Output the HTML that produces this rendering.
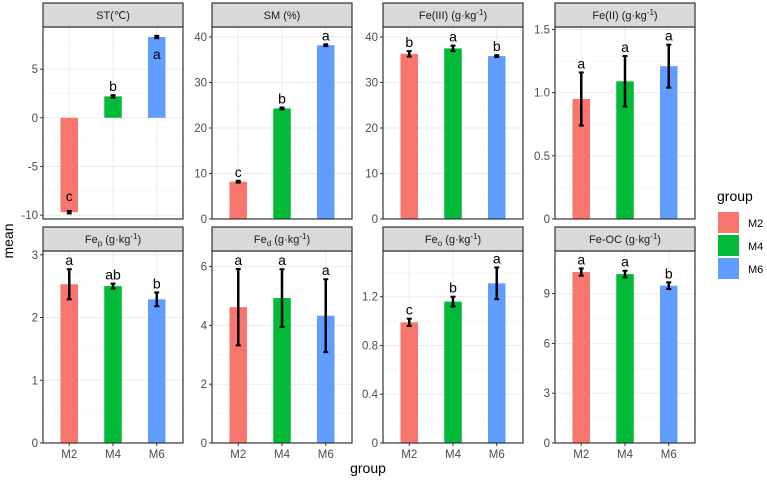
<!DOCTYPE html>
<html><head><meta charset="utf-8"><style>
body{margin:0;background:#fff}
svg{display:block;font-family:"Liberation Sans",sans-serif}
</style></head><body>
<svg id="c" width="767" height="481" viewBox="0 0 767 481"></svg>
<script>
const categories=["M2","M4","M6"];
const colors=["#F8766D","#00BA38","#619CFF"];
const panelTitles=["ST(℃)","SM (%)","Fe(III) (g·kg-1)","Fe(II) (g·kg-1)","Fep (g·kg-1)","Fed (g·kg-1)","Feo (g·kg-1)","Fe-OC (g·kg-1)"];
const meanST=[-9.7,2.2,8.3], errST=[0.12,0.12,0.12], lettersST=["c","b","a"];
const meanSM=[8.2,24.3,38.2], errSM=[0.2,0.2,0.2], lettersSM=["c","b","a"];
const meanFe3=[36.3,37.5,35.8], errFe3=[0.6,0.6,0.2], lettersFe3=["b","a","b"];
const meanFe2=[0.95,1.09,1.21], errFe2=[0.21,0.2,0.17], lettersFe2=["a","a","a"];
const meanFep=[2.53,2.50,2.29], errFep=[0.24,0.04,0.11], lettersFep=["a","ab","b"];
const meanFed=[4.62,4.93,4.33], errFed=[1.3,0.98,1.24], lettersFed=["a","a","a"];
const meanFeo=[0.99,1.16,1.31], errFeo=[0.03,0.04,0.13], lettersFeo=["c","b","a"];
const meanFeOC=[10.3,10.18,9.48], errFeOC=[0.22,0.2,0.2], lettersFeOC=["a","a","b"];
const ticksST=[-10,-5,0,5], ticksSM=[0,10,20,30,40], ticksFe3=[0,10,20,30,40], ticksFe2=[0,0.5,1.0,1.5];
const ticksFep=[0,1,2,3], ticksFed=[0,2,4,6], ticksFeo=[0,0.4,0.8,1.2], ticksFeOC=[0,3,6,9];
const tickFmt=[v=>v,v=>v,v=>v,v=>v.toFixed(1).replace("0.0","0"),v=>v,v=>v,v=>v===0?"0":v.toFixed(1),v=>v];
const panels=[
 {m:meanST,e:errST,l:lettersST,t:ticksST,d:[-10.4,9.33]},
 {m:meanSM,e:errSM,l:lettersSM,t:ticksSM,d:[0,42.2]},
 {m:meanFe3,e:errFe3,l:lettersFe3,t:ticksFe3,d:[0,42.2]},
 {m:meanFe2,e:errFe2,l:lettersFe2,t:ticksFe2,d:[0,1.52]},
 {m:meanFep,e:errFep,l:lettersFep,t:ticksFep,d:[0,3.06]},
 {m:meanFed,e:errFed,l:lettersFed,t:ticksFed,d:[0,6.53]},
 {m:meanFeo,e:errFeo,l:lettersFeo,t:ticksFeo,d:[0,1.575]},
 {m:meanFeOC,e:errFeOC,l:lettersFeOC,t:ticksFeOC,d:[0,11.57]}
];
const NS="http://www.w3.org/2000/svg";
const svg=document.getElementById("c");
function mk(tag,attrs,parent){const el=document.createElementNS(NS,tag);for(const k in attrs)el.setAttribute(k,attrs[k]);(parent||svg).appendChild(el);return el;}
const lefts=[43,212,383,555], W=140;
const rows=[{st:3,top:27,bot:219},{st:227,top:251,bot:443}];
panels.forEach((p,i)=>{
 const x0=lefts[i%4], r=rows[Math.floor(i/4)];
 const g=mk("g",{});
 
 
 const y=v=>r.bot-(v-p.d[0])/(p.d[1]-p.d[0])*(r.bot-r.top);
 const xc=k=>x0+(k+0.6)*W/3.2;
 mk("rect",{x:x0,y:r.top,width:W,height:r.bot-r.top,fill:"#fff"},g);
 for(let j=0;j<p.t.length+1;j++){
  const step=p.t[1]-p.t[0];const v=p.t[0]+(j-0.5)*step;
  if(v>p.d[0]&&v<p.d[1])mk("line",{x1:x0,x2:x0+W,y1:y(v),y2:y(v),stroke:"#f3f3f3","stroke-width":0.6},g);
 }
 p.t.forEach((v,j)=>{
  mk("line",{x1:x0,x2:x0+W,y1:y(v),y2:y(v),stroke:"#ebebeb","stroke-width":1},g);
  mk("line",{x1:x0-3,x2:x0,y1:y(v),y2:y(v),stroke:"#333","stroke-width":1},g);
  const t=mk("text",{x:x0-5,y:y(v)+4,"text-anchor":"end","font-size":11.5,fill:"#4d4d4d"},g);
  t.textContent=tickFmt[i](v);
  
  
 });
 categories.forEach((c,k)=>mk("line",{x1:xc(k),x2:xc(k),y1:r.top,y2:r.bot,stroke:"#ebebeb","stroke-width":1},g));
 const bw=W/3.2*0.4;
 categories.forEach((c,k)=>{
  const v=p.m[k], y0=y(Math.max(0,p.d[0]>0?p.d[0]:0)), yv=y(v);
  const b=mk("rect",{x:xc(k)-bw/2,y:Math.min(y0,yv),width:bw,height:Math.abs(y0-yv),fill:colors[k]},g);
  
  
  const lo=y(v-p.e[k]),hi=y(v+p.e[k]);
  mk("line",{x1:xc(k),x2:xc(k),y1:lo,y2:hi,stroke:"#000","stroke-width":2.5},g);
  mk("line",{x1:xc(k)-2.5,x2:xc(k)+2.5,y1:lo,y2:lo,stroke:"#000","stroke-width":2},g);
  mk("line",{x1:xc(k)-2.5,x2:xc(k)+2.5,y1:hi,y2:hi,stroke:"#000","stroke-width":2},g);
  let ly=hi-4;
  if(i===0&&k===0) ly=hi-10;
  if(i===0&&k===2) ly=y(v)+22;
  const lt=mk("text",{x:xc(k),y:ly,"text-anchor":"middle","font-size":14,fill:"#000"},g);
  lt.textContent=p.l[k];
  
  
  if(i>=4){
   mk("line",{x1:xc(k),x2:xc(k),y1:r.bot,y2:r.bot+3,stroke:"#333"},g);
   const xt=mk("text",{x:xc(k),y:r.bot+15,"text-anchor":"middle","font-size":11.5,fill:"#4d4d4d"},g);
   xt.textContent=c;
   
   
  }
 });
 mk("rect",{x:x0,y:r.top,width:W,height:r.bot-r.top,fill:"none",stroke:"#333","stroke-width":1.2},g);
 mk("rect",{x:x0,y:r.st,width:W,height:r.top-r.st,fill:"#d9d9d9",stroke:"#333","stroke-width":1.2},g);
 const st=mk("text",{x:x0+W/2,y:r.st+16,"text-anchor":"middle","font-size":11,fill:"#1a1a1a"},g);
 
 
 const title=panelTitles[i];
 const m=title.match(/^(Fe)([pdo]) (.*)-1\)$/)||null;
 const addSup=(s)=>{const parts=s.split("-1");const a=document.createElementNS(NS,"tspan");a.textContent=parts[0];st.appendChild(a);const b=document.createElementNS(NS,"tspan");b.setAttribute("dy","-4");b.setAttribute("font-size","8");b.textContent="-1";st.appendChild(b);const c=document.createElementNS(NS,"tspan");c.setAttribute("dy","4");c.textContent=parts[1];st.appendChild(c);};
 if(m){const a=document.createElementNS(NS,"tspan");a.textContent="Fe";st.appendChild(a);const s=document.createElementNS(NS,"tspan");s.setAttribute("dy","3");s.setAttribute("font-size","8");s.textContent=m[2];st.appendChild(s);const s2=document.createElementNS(NS,"tspan");s2.setAttribute("dy","-3");s2.textContent=" ";st.appendChild(s2);addSup(m[3]+"-1)");}
 else if(title.includes("-1")) addSup(title);
 else st.textContent=title;
});
const yl=mk("text",{x:0,y:0,transform:"translate(13,241) rotate(-90)","text-anchor":"middle","font-size":14,fill:"#000"});
yl.textContent="mean";


const xl=mk("text",{x:368,y:473,"text-anchor":"middle","font-size":14,fill:"#000"});
xl.textContent="group";


const lg=mk("g",{});


const lt=mk("text",{x:717,y:201,"font-size":14,fill:"#000"},lg);
lt.textContent="group";
categories.forEach((c,k)=>{
 const ky=212+k*23;
 const r=mk("rect",{x:718,y:ky,width:21,height:21,fill:colors[k]},lg);
 
 
 const t=mk("text",{x:748,y:ky+15,"font-size":11,fill:"#000"},lg);
 t.textContent=c;
 
 
});
</script>
</body></html>
